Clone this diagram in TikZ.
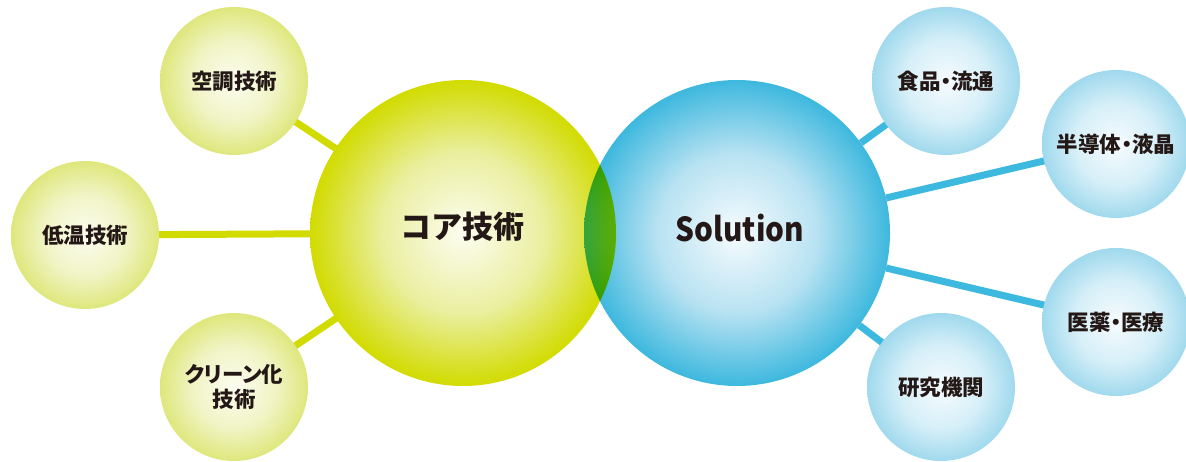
\documentclass[tikz,border=0pt]{standalone}
\usepackage{fontspec}
\newfontfamily\jp{Noto Sans CJK JP}
\newfontfamily\jpp{Noto Sans CJK JP}[RawFeature=+palt]
\pgfdeclarelayer{bg}
\pgfsetlayers{bg,main}
\definecolor{yedge}{HTML}{D2DB00}
\definecolor{ymid}{HTML}{EAEFA0}
\definecolor{ycen}{HTML}{FCFDF0}
\definecolor{bedge}{HTML}{3DB8DE}
\definecolor{bmid}{HTML}{B8E2F2}
\definecolor{bcen}{HTML}{F6FBFE}
\definecolor{syedge}{HTML}{DEE77C}
\definecolor{symid}{HTML}{F0F4C4}
\definecolor{sbedge}{HTML}{A0D9ED}
\definecolor{sbmid}{HTML}{D6EFF8}
\definecolor{txt}{HTML}{231815}
\pgfdeclareradialshading{bigY}{\pgfpointorigin}{color(0bp)=(ycen); color(13bp)=(ymid); color(25bp)=(yedge); color(50bp)=(yedge)}
\pgfdeclareradialshading{bigB}{\pgfpointorigin}{color(0bp)=(bcen); color(13bp)=(bmid); color(25bp)=(bedge); color(50bp)=(bedge)}
\pgfdeclareradialshading{smY}{\pgfpointorigin}{color(0bp)=(ycen); color(14bp)=(symid); color(25bp)=(syedge); color(50bp)=(syedge)}
\pgfdeclareradialshading{smB}{\pgfpointorigin}{color(0bp)=(bcen); color(14bp)=(sbmid); color(25bp)=(sbedge); color(50bp)=(sbedge)}
\tikzset{
  bigball/.style={circle, inner sep=0pt, minimum size=306pt, shade, text=txt},
  smallball/.style={circle, inner sep=0pt, minimum size=148pt, shade, text=txt,
     font=\jpp\bfseries\fontsize{21.5}{25}\selectfont, align=center},
  yline/.style={line width=7pt, draw=yedge},
  bline/.style={line width=7pt, draw=bedge},
}
\begin{document}
\begin{tikzpicture}[x=1pt,y=-1pt]
\useasboundingbox (0,0) rectangle (1186,462);
% core circles
\node[bigball, shading=bigY] (core) at (463,233) {};
\node[font=\jp\bfseries\fontsize{31}{35}\selectfont, text=txt] (coret) at (462,227) {コア技術};
\begin{scope}[blend mode=multiply]
\node[bigball, shading=bigB] (sol) at (737,233) {};
\end{scope}
\node[font=\jp\bfseries\fontsize{33}{38}\selectfont, text=txt] (solt) at (740,228) {\scalebox{0.9}[1]{Solution}};
% small yellow
\node[smallball, shading=smY] (kucho) at (234,81) {空調技術};
\node[smallball, shading=smY] (teion) at (85,235) {低温技術};
\node[smallball, shading=smY] (clean) at (234,387) {クリーン化\\技術};
% small blue
\node[smallball, shading=smB] (food) at (946,81) {食品・流通};
\node[smallball, shading=smB] (semi) at (1116,144) {半導体・液晶};
\node[smallball, shading=smB] (med) at (1116,322) {医薬・医療};
\node[smallball, shading=smB] (lab) at (941,387) {研究機関};
% connectors
\begin{pgfonlayer}{bg}
\draw[yline] (kucho.center) -- (core.center);
\draw[yline] (teion.center) -- (core.center);
\draw[yline] (clean.center) -- (core.center);
\draw[bline] (food.center) -- (sol);
\draw[bline] (semi.center) -- (sol);
\draw[bline] (med.center) -- (sol);
\draw[bline] (lab.center) -- (sol);
\end{pgfonlayer}
\end{tikzpicture}
\end{document}
